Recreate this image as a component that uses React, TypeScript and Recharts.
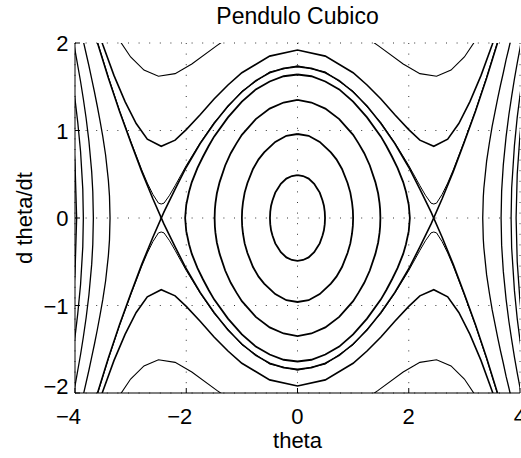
import React from 'react';
import { LineChart, Line, XAxis, YAxis, CartesianGrid, Customized } from 'recharts';

// Phase portrait of the cubic pendulum: theta (x) against d theta/dt (y).
type Pt = [number, number];

const thetaTicks = [-4, -2, 0, 2, 4];
const omegaTicks = [-2, -1, 0, 1, 2];

// Closed orbits around the centre
const orbitA: Pt[] = [[0,0.49],[0.1,0.48],[0.2,0.45],[0.3,0.39],[0.35,0.34],[0.4,0.29],[0.45,0.2],[0.475,0.14],[0.49,0.07],[0.495,0],[0.49,-0.07],[0.475,-0.14],[0.45,-0.2],[0.4,-0.29],[0.35,-0.34],[0.3,-0.39],[0.2,-0.45],[0.1,-0.48],[0,-0.49],[-0.1,-0.48],[-0.2,-0.45],[-0.3,-0.39],[-0.35,-0.34],[-0.4,-0.29],[-0.45,-0.2],[-0.475,-0.14],[-0.49,-0.07],[-0.495,0],[-0.49,0.07],[-0.475,0.14],[-0.45,0.2],[-0.4,0.29],[-0.35,0.34],[-0.3,0.39],[-0.2,0.45],[-0.1,0.48],[0,0.49]];
const orbitB: Pt[] = [[0,0.96],[0.2,0.94],[0.4,0.87],[0.6,0.75],[0.7,0.67],[0.8,0.56],[0.9,0.4],[0.95,0.29],[0.98,0.18],[0.995,0.09],[1.0,0],[0.995,-0.09],[0.98,-0.18],[0.95,-0.29],[0.9,-0.4],[0.8,-0.56],[0.7,-0.67],[0.6,-0.75],[0.4,-0.87],[0.2,-0.94],[0,-0.96],[-0.2,-0.94],[-0.4,-0.87],[-0.6,-0.75],[-0.7,-0.67],[-0.8,-0.56],[-0.9,-0.4],[-0.95,-0.29],[-0.98,-0.18],[-0.995,-0.09],[-1.0,0],[-0.995,0.09],[-0.98,0.18],[-0.95,0.29],[-0.9,0.4],[-0.8,0.56],[-0.7,0.67],[-0.6,0.75],[-0.4,0.87],[-0.2,0.94],[0,0.96]];
const orbitC: Pt[] = [[0,1.35],[0.25,1.32],[0.5,1.25],[0.75,1.13],[1.0,0.95],[1.1,0.85],[1.2,0.74],[1.3,0.6],[1.4,0.41],[1.45,0.28],[1.475,0.17],[1.485,0.1],[1.49,0],[1.485,-0.1],[1.475,-0.17],[1.45,-0.28],[1.4,-0.41],[1.3,-0.6],[1.2,-0.74],[1.1,-0.85],[1.0,-0.95],[0.75,-1.13],[0.5,-1.25],[0.25,-1.32],[0,-1.35],[-0.25,-1.32],[-0.5,-1.25],[-0.75,-1.13],[-1.0,-0.95],[-1.1,-0.85],[-1.2,-0.74],[-1.3,-0.6],[-1.4,-0.41],[-1.45,-0.28],[-1.475,-0.17],[-1.485,-0.1],[-1.49,0],[-1.485,0.1],[-1.475,0.17],[-1.45,0.28],[-1.4,0.41],[-1.3,0.6],[-1.2,0.74],[-1.1,0.85],[-1.0,0.95],[-0.75,1.13],[-0.5,1.25],[-0.25,1.32],[0,1.35]];
const orbitD: Pt[] = [[0,1.64],[0.25,1.62],[0.5,1.56],[0.75,1.47],[1.0,1.33],[1.25,1.15],[1.5,0.93],[1.6,0.82],[1.7,0.7],[1.8,0.57],[1.9,0.41],[1.95,0.3],[2.0,0.15],[2.02,0],[2.0,-0.15],[1.95,-0.3],[1.9,-0.41],[1.8,-0.57],[1.7,-0.7],[1.6,-0.82],[1.5,-0.93],[1.25,-1.15],[1.0,-1.33],[0.75,-1.47],[0.5,-1.56],[0.25,-1.62],[0,-1.64],[-0.25,-1.62],[-0.5,-1.56],[-0.75,-1.47],[-1.0,-1.33],[-1.25,-1.15],[-1.5,-0.93],[-1.6,-0.82],[-1.7,-0.7],[-1.8,-0.57],[-1.9,-0.41],[-1.95,-0.3],[-2.0,-0.15],[-2.02,0],[-2.0,0.15],[-1.95,0.3],[-1.9,0.41],[-1.8,0.57],[-1.7,0.7],[-1.6,0.82],[-1.5,0.93],[-1.25,1.15],[-1.0,1.33],[-0.75,1.47],[-0.5,1.56],[-0.25,1.62],[0,1.64]];

// Separatrix branches crossing at the saddles
const sepLow: Pt[] = [[-3.7,2.22],[-3.6,2.01],[-3.4,1.6],[-3.2,1.22],[-3.0,0.87],[-2.8,0.53],[-2.6,0.22],[-2.4,-0.07],[-2.2,-0.33],[-2.0,-0.58],[-1.75,-0.85],[-1.5,-1.08],[-1.25,-1.28],[-1.0,-1.44],[-0.75,-1.57],[-0.5,-1.66],[-0.25,-1.71],[0,-1.73],[0.25,-1.71],[0.5,-1.66],[0.75,-1.57],[1.0,-1.44],[1.25,-1.28],[1.5,-1.08],[1.75,-0.85],[2.0,-0.58],[2.2,-0.33],[2.4,-0.07],[2.6,0.22],[2.8,0.53],[3.0,0.87],[3.2,1.22],[3.4,1.6],[3.6,2.01],[3.7,2.22]];
const sepHigh: Pt[] = [[-3.7,-2.22],[-3.6,-2.01],[-3.4,-1.6],[-3.2,-1.22],[-3.0,-0.87],[-2.8,-0.53],[-2.6,-0.22],[-2.4,0.07],[-2.2,0.33],[-2.0,0.58],[-1.75,0.85],[-1.5,1.08],[-1.25,1.28],[-1.0,1.44],[-0.75,1.57],[-0.5,1.66],[-0.25,1.71],[0,1.73],[0.25,1.71],[0.5,1.66],[0.75,1.57],[1.0,1.44],[1.25,1.28],[1.5,1.08],[1.75,0.85],[2.0,0.58],[2.2,0.33],[2.4,0.07],[2.6,-0.22],[2.8,-0.53],[3.0,-0.87],[3.2,-1.22],[3.4,-1.6],[3.6,-2.01],[3.7,-2.22]];

// Running trajectories just above the separatrix
const nearTop: Pt[] = [[-3.7,2.23],[-3.6,2.02],[-3.4,1.61],[-3.2,1.23],[-3.0,0.88],[-2.8,0.55],[-2.7,0.4],[-2.6,0.27],[-2.5,0.17],[-2.45,0.16],[-2.4,0.17],[-2.3,0.26],[-2.2,0.37],[-2.0,0.6],[-1.75,0.86],[-1.5,1.09],[-1.0,1.45],[-0.5,1.67],[0,1.74],[0.5,1.67],[1.0,1.45],[1.5,1.09],[1.75,0.86],[2.0,0.6],[2.2,0.37],[2.3,0.26],[2.4,0.17],[2.45,0.16],[2.5,0.17],[2.6,0.27],[2.7,0.4],[2.8,0.55],[3.0,0.88],[3.2,1.23],[3.4,1.61],[3.6,2.02],[3.7,2.23]];
const nearBottom: Pt[] = [[-3.7,-2.23],[-3.6,-2.02],[-3.4,-1.61],[-3.2,-1.23],[-3.0,-0.88],[-2.8,-0.55],[-2.7,-0.4],[-2.6,-0.27],[-2.5,-0.17],[-2.45,-0.16],[-2.4,-0.17],[-2.3,-0.26],[-2.2,-0.37],[-2.0,-0.6],[-1.75,-0.86],[-1.5,-1.09],[-1.0,-1.45],[-0.5,-1.67],[0,-1.74],[0.5,-1.67],[1.0,-1.45],[1.5,-1.09],[1.75,-0.86],[2.0,-0.6],[2.2,-0.37],[2.3,-0.26],[2.4,-0.17],[2.45,-0.16],[2.5,-0.17],[2.6,-0.27],[2.7,-0.4],[2.8,-0.55],[3.0,-0.88],[3.2,-1.23],[3.4,-1.61],[3.6,-2.02],[3.7,-2.23]];

const runTop: Pt[] = [[-3.6,2.17],[-3.5,1.98],[-3.3,1.63],[-3.1,1.33],[-2.9,1.08],[-2.7,0.9],[-2.45,0.82],[-2.2,0.89],[-2.0,1.01],[-1.75,1.18],[-1.5,1.36],[-1.25,1.52],[-1.0,1.66],[-0.5,1.85],[0,1.92],[0.5,1.85],[1.0,1.66],[1.25,1.52],[1.5,1.36],[1.75,1.18],[2.0,1.01],[2.2,0.89],[2.45,0.82],[2.7,0.9],[2.9,1.08],[3.1,1.33],[3.3,1.63],[3.5,1.98],[3.6,2.17]];
const runBottom: Pt[] = [[-3.6,-2.17],[-3.5,-1.98],[-3.3,-1.63],[-3.1,-1.33],[-2.9,-1.08],[-2.7,-0.9],[-2.45,-0.82],[-2.2,-0.89],[-2.0,-1.01],[-1.75,-1.18],[-1.5,-1.36],[-1.25,-1.52],[-1.0,-1.66],[-0.5,-1.85],[0,-1.92],[0.5,-1.85],[1.0,-1.66],[1.25,-1.52],[1.5,-1.36],[1.75,-1.18],[2.0,-1.01],[2.2,-0.89],[2.45,-0.82],[2.7,-0.9],[2.9,-1.08],[3.1,-1.33],[3.3,-1.63],[3.5,-1.98],[3.6,-2.17]];

const fastTop: Pt[] = [[-3.4,2.28],[-3.2,2.03],[-3.0,1.84],[-2.76,1.69],[-2.5,1.62],[-2.2,1.65],[-1.9,1.76],[-1.45,1.97],[-1.0,2.17],[0,2.37],[1.0,2.17],[1.45,1.97],[1.9,1.76],[2.2,1.65],[2.5,1.62],[2.76,1.69],[3.0,1.84],[3.2,2.03],[3.4,2.28]];
const fastBottom: Pt[] = [[-3.4,-2.28],[-3.2,-2.03],[-3.0,-1.84],[-2.76,-1.69],[-2.5,-1.62],[-2.2,-1.65],[-1.9,-1.76],[-1.45,-1.97],[-1.0,-2.17],[0,-2.37],[1.0,-2.17],[1.45,-1.97],[1.9,-1.76],[2.2,-1.65],[2.5,-1.62],[2.76,-1.69],[3.0,-1.84],[3.2,-2.03],[3.4,-2.28]];

// Trajectories outside the potential barrier
const outerL1: Pt[] = [[-3.85,2.02],[-3.8,1.88],[-3.75,1.74],[-3.7,1.59],[-3.65,1.44],[-3.6,1.28],[-3.55,1.11],[-3.5,0.93],[-3.45,0.72],[-3.4,0.43],[-3.38,0.25],[-3.37,0],[-3.38,-0.25],[-3.4,-0.43],[-3.45,-0.72],[-3.5,-0.93],[-3.55,-1.11],[-3.6,-1.28],[-3.65,-1.44],[-3.7,-1.59],[-3.75,-1.74],[-3.8,-1.88],[-3.85,-2.02]];
const outerL2: Pt[] = [[-4.05,2.09],[-4.0,1.92],[-3.95,1.74],[-3.9,1.56],[-3.85,1.36],[-3.8,1.14],[-3.75,0.88],[-3.7,0.53],[-3.68,0.3],[-3.67,0],[-3.68,-0.3],[-3.7,-0.53],[-3.75,-0.88],[-3.8,-1.14],[-3.85,-1.36],[-3.9,-1.56],[-3.95,-1.74],[-4.0,-1.92],[-4.05,-2.09]];
const outerL3: Pt[] = [[-4.05,1.59],[-4.0,1.36],[-3.95,1.09],[-3.9,0.76],[-3.86,0.33],[-3.85,0],[-3.86,-0.33],[-3.9,-0.76],[-3.95,-1.09],[-4.0,-1.36],[-4.05,-1.59]];
const outerL4: Pt[] = [[-4.05,1.04],[-4.0,0.63],[-3.97,0],[-4.0,-0.63],[-4.05,-1.04]];
const outerR1: Pt[] = [[3.85,2.08],[3.8,1.94],[3.75,1.81],[3.7,1.66],[3.65,1.52],[3.6,1.37],[3.55,1.21],[3.5,1.05],[3.45,0.86],[3.4,0.65],[3.35,0.34],[3.34,0.24],[3.33,0],[3.34,-0.24],[3.35,-0.34],[3.4,-0.65],[3.45,-0.86],[3.5,-1.05],[3.55,-1.21],[3.6,-1.37],[3.65,-1.52],[3.7,-1.66],[3.75,-1.81],[3.8,-1.94],[3.85,-2.08]];
const outerR2: Pt[] = [[4.05,2.11],[4.0,1.94],[3.95,1.77],[3.9,1.59],[3.85,1.39],[3.8,1.18],[3.75,0.93],[3.7,0.61],[3.67,0.31],[3.66,0],[3.67,-0.31],[3.7,-0.61],[3.75,-0.93],[3.8,-1.18],[3.85,-1.39],[3.9,-1.59],[3.95,-1.77],[4.0,-1.94],[4.05,-2.11]];
const outerR3: Pt[] = [[4.05,1.63],[4.0,1.4],[3.95,1.15],[3.9,0.83],[3.85,0.34],[3.84,0],[3.85,-0.34],[3.9,-0.83],[3.95,-1.15],[4.0,-1.4],[4.05,-1.63]];
const outerR4: Pt[] = [[4.1,1.52],[4.05,1.26],[4.0,0.95],[3.95,0.5],[3.93,0],[3.95,-0.5],[4.0,-0.95],[4.05,-1.26],[4.1,-1.52]];

const curves: { name: string; pts: Pt[]; w: number }[] = [
  { name: 'orbitA', pts: orbitA, w: 1.8 },
  { name: 'orbitB', pts: orbitB, w: 1.8 },
  { name: 'orbitC', pts: orbitC, w: 1.8 },
  { name: 'orbitD', pts: orbitD, w: 1.8 },
  { name: 'sepLow', pts: sepLow, w: 1.6 },
  { name: 'sepHigh', pts: sepHigh, w: 1.6 },
  { name: 'nearTop', pts: nearTop, w: 1.0 },
  { name: 'nearBottom', pts: nearBottom, w: 1.0 },
  { name: 'runTop', pts: runTop, w: 1.6 },
  { name: 'runBottom', pts: runBottom, w: 1.6 },
  { name: 'fastTop', pts: fastTop, w: 1.1 },
  { name: 'fastBottom', pts: fastBottom, w: 1.1 },
  { name: 'outerL1', pts: outerL1, w: 1.3 },
  { name: 'outerL2', pts: outerL2, w: 1.3 },
  { name: 'outerL3', pts: outerL3, w: 1.3 },
  { name: 'outerL4', pts: outerL4, w: 1.3 },
  { name: 'outerR1', pts: outerR1, w: 1.3 },
  { name: 'outerR2', pts: outerR2, w: 1.3 },
  { name: 'outerR3', pts: outerR3, w: 1.3 },
  { name: 'outerR4', pts: outerR4, w: 1.3 },
];

const W = 521;
const H = 458;
const PLOT_LEFT = 75;
const PLOT_TOP = 43;
const PLOT_RIGHT = 520;
const PLOT_BOTTOM = 393;
const FONT = "'Liberation Sans', Arial, Helvetica, sans-serif";
const FS = 22;

const fmt = (v: number) => (v < 0 ? '\u2212' + Math.abs(v) : String(v));

const XTick = (props: any) => {
  const { x, payload } = props;
  return (
    <g>
      <line x1={x} x2={x} y1={PLOT_BOTTOM} y2={PLOT_BOTTOM - 5} stroke="#000" strokeWidth={1} />
      <text x={x + 6} y={424} textAnchor="end" fontFamily={FONT} fontSize={FS} fill="#000">
        {fmt(payload.value)}
      </text>
    </g>
  );
};

const YTick = (props: any) => {
  const { y, payload } = props;
  const shift = payload.value === -2 ? -7 : 0;
  return (
    <g>
      <line x1={PLOT_LEFT} x2={PLOT_LEFT + 5} y1={y} y2={y} stroke="#000" strokeWidth={1} />
      <text x={68.5} y={y + 8 + shift} textAnchor="end" fontFamily={FONT} fontSize={FS} fill="#000">
        {fmt(payload.value)}
      </text>
    </g>
  );
};

const Labels = () => (
  <g fontFamily={FONT} fill="#000">
    <text x={(PLOT_LEFT + PLOT_RIGHT) / 2} y={23.5} textAnchor="middle" fontSize={23}>Pendulo Cubico</text>
    <text x={(PLOT_LEFT + PLOT_RIGHT) / 2} y={448} textAnchor="middle" fontSize={FS}>theta</text>
    <text
      x={32}
      y={(PLOT_TOP + PLOT_BOTTOM) / 2}
      textAnchor="middle"
      fontSize={FS}
      transform={`rotate(-90, 32, ${(PLOT_TOP + PLOT_BOTTOM) / 2})`}
    >
      d theta/dt
    </text>
  </g>
);

export default function App() {
  return (
    <div style={{ position: 'absolute', left: 0, top: 0, width: W, height: H, background: '#fff' }}>
      <LineChart
        width={W}
        height={H}
        margin={{ top: PLOT_TOP, right: W - PLOT_RIGHT, bottom: 0, left: 0 }}
      >
        <CartesianGrid stroke="#000" strokeWidth={1} strokeDasharray="1 9.6" strokeOpacity={0.8} />
        <XAxis
          type="number"
          dataKey="x"
          domain={[-4, 4]}
          ticks={thetaTicks}
          allowDataOverflow
          height={H - PLOT_BOTTOM}
          axisLine={{ stroke: '#000', strokeWidth: 1 }}
          tickLine={false}
          tick={(p: any) => <XTick {...p} />}
          interval={0}
        />
        <YAxis
          type="number"
          dataKey="y"
          domain={[-2, 2]}
          ticks={omegaTicks}
          allowDataOverflow
          width={PLOT_LEFT}
          axisLine={{ stroke: '#000', strokeWidth: 1 }}
          tickLine={false}
          tick={(p: any) => <YTick {...p} />}
          interval={0}
        />
        {curves.map((c) => (
          <Line
            key={c.name}
            name={c.name}
            data={c.pts.map(([x, y]) => ({ x, y }))}
            dataKey="y"
            type="linear"
            stroke="#000"
            strokeWidth={c.w}
            dot={false}
            activeDot={false}
            isAnimationActive={false}
          />
        ))}
        <Customized component={Labels} />
      </LineChart>
    </div>
  );
}
